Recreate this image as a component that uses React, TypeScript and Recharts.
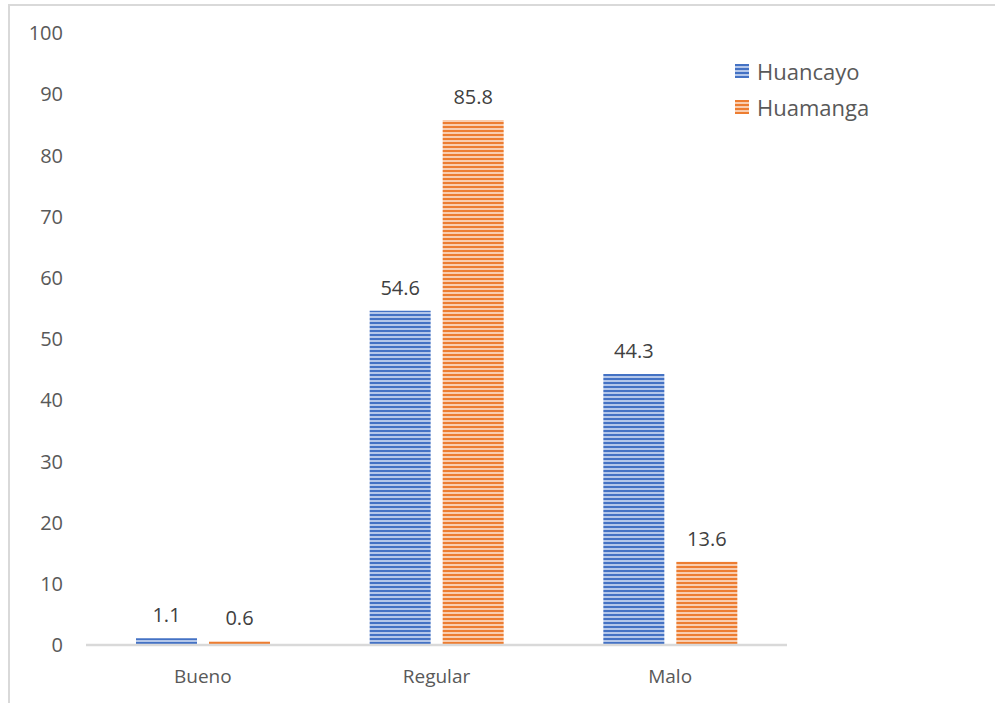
import { BarChart, Bar, XAxis, YAxis, LabelList } from 'recharts'

const categories = ['Bueno', 'Regular', 'Malo']
const huancayo = [1.1, 54.6, 44.3]
const huamanga = [0.6, 85.8, 13.6]
const yTicks = [0, 10, 20, 30, 40, 50, 60, 70, 80, 90, 100]

const seriesInfo = [
  { key: 'Huancayo', dark: '#4472C4', light: '#B4C7EA', pattern: 'stripeBlue' },
  { key: 'Huamanga', dark: '#ED7D31', light: '#F9CDAF', pattern: 'stripeOrange' },
]

const data = categories.map((name, i) => ({
  name,
  Huancayo: huancayo[i],
  Huamanga: huamanga[i],
}))

const font = '"Open Sans", sans-serif'

const LegendBox = () => (
  <div
    style={{
      position: 'absolute',
      left: 725,
      top: 47,
      fontFamily: font,
      fontSize: 22,
      color: '#595959',
    }}
  >
    {seriesInfo.map((s) => (
      <div key={s.key} style={{ display: 'flex', alignItems: 'center', height: 36 }}>
        <svg width={14} height={14} style={{ marginRight: 8 }}>
          <rect x={0} y={0} width={14} height={14} fill={`url(#${s.pattern})`} />
        </svg>
        <span>{s.key}</span>
      </div>
    ))}
  </div>
)

export default function App() {
  return (
    <div
      style={{
        position: 'absolute',
        left: 8,
        top: 4,
        width: 987,
        height: 699,
        boxSizing: 'border-box',
        borderTop: '2px solid #d9d9d9',
        borderLeft: '2px solid #d9d9d9',
        background: '#fff',
      }}
    >
      <BarChart
        width={985}
        height={697}
        data={data}
        margin={{ top: 27, right: 208, left: 0, bottom: 28 }}
        barSize={61}
        barGap={12}
      >
        <defs>
          {seriesInfo.map((s) => (
            <pattern key={s.pattern} id={s.pattern} width={4} height={4} patternUnits="userSpaceOnUse">
              <rect x={0} y={0} width={4} height={4} fill={s.light} />
              <rect x={0} y={0} width={4} height={2} fill={s.dark} />
            </pattern>
          ))}
        </defs>
        <XAxis
          dataKey="name"
          height={30}
          tickLine={false}
          axisLine={{ stroke: '#d9d9d9', strokeWidth: 2.5 }}
          tickMargin={19}
          tick={{ fill: '#595959', fontSize: 19, fontFamily: font }}
        />
        <YAxis
          width={76}
          domain={[0, 100]}
          ticks={yTicks}
          interval={0}
          axisLine={false}
          tickLine={false}
          tickMargin={17}
          tick={{ fill: '#595959', fontSize: 20, fontFamily: font }}
        />
        {seriesInfo.map((s) => (
          <Bar key={s.key} dataKey={s.key} fill={`url(#${s.pattern})`} isAnimationActive={false}>
            <LabelList
              dataKey={s.key}
              position="top"
              offset={16}
              fill="#404040"
              fontSize={20}
              fontFamily={font}
            />
          </Bar>
        ))}
      </BarChart>
      <LegendBox />
    </div>
  )
}
